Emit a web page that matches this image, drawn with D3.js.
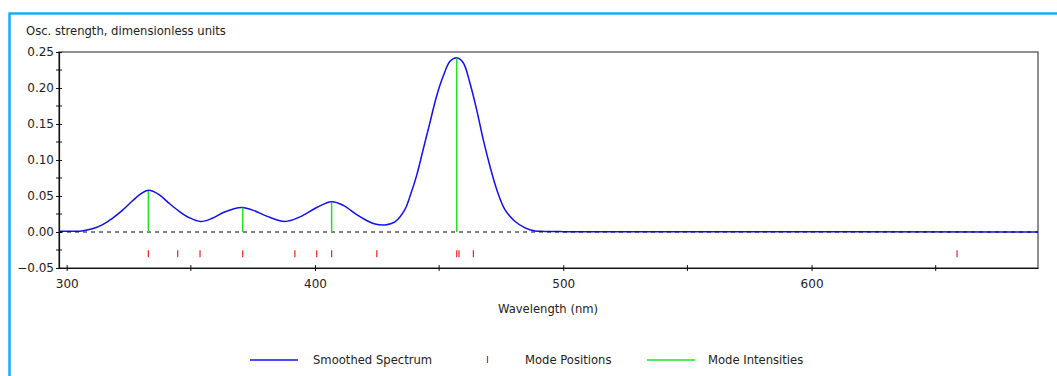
<!DOCTYPE html>
<html><head><meta charset="utf-8">
<script src="https://cdn.jsdelivr.net/npm/d3@7"></script>
<style>
body{margin:0;background:#fff;}
text{font-family:Tahoma,"DejaVu Sans",sans-serif;fill:#222;}
</style></head>
<body>
<svg id="c" width="1057" height="376"></svg>
<script>
// Smoothed spectrum points (wavelength nm, oscillator strength)
const spectrumWl = [296.9,300,306,310.3,314.3,318.4,322.4,326.4,329.8,332.9,337.2,341.2,345.2,349.3,353.9,358.6,363.1,367.1,370.7,375.2,380.5,387.9,394,400.7,406.7,411.4,416.8,420.8,424.2,428.2,432.2,436.2,438.2,440.9,443.6,446.3,449,451.7,454.4,457.1,459.7,462.4,465.1,467.8,470.5,473.2,476.5,480.5,484.6,488.6,492.6,500,543,691.2];
const spectrumVal = [0.001,0.001,0.0015,0.0044,0.010,0.019,0.030,0.043,0.053,0.058,0.052,0.040,0.029,0.020,0.0146,0.019,0.027,0.032,0.034,0.030,0.022,0.0146,0.021,0.034,0.042,0.037,0.024,0.016,0.011,0.0098,0.014,0.031,0.049,0.078,0.115,0.152,0.189,0.217,0.237,0.242,0.235,0.207,0.170,0.128,0.091,0.059,0.031,0.015,0.0058,0.0015,0.0008,0.0005,0.0005,0.0];
// Mode positions (nm)
const modePositions = [332.9,344.7,353.7,370.9,391.9,400.7,406.7,424.9,457.1,458.0,463.8,658.6];
// Mode intensities (nm, value)
const intensityWl = [332.9,370.9,406.7,457.1];
const intensityVal = [0.057,0.034,0.041,0.242];
const yTicks = [-0.05,0.00,0.05,0.10,0.15,0.20,0.25];
const xTicks = [300,400,500,600];
const legendLabels = ["Smoothed Spectrum","Mode Positions","Mode Intensities"];

const svg = d3.select("#c");
const L=59,R=1038,T=52,B=268;
const FS="11.6px";
const x = d3.scaleLinear().domain([296.9,691.2]).range([L,R]);
const y = d3.scaleLinear().domain([-0.05,0.25]).range([B,T]);

// outer blue frame
svg.append("line").attr("x1",9.5).attr("x2",1057).attr("y1",13.5).attr("y2",13.5).attr("stroke","#16aef0").attr("stroke-width",2.5);
svg.append("line").attr("x1",9.5).attr("x2",9.5).attr("y1",12.5).attr("y2",376).attr("stroke","#16aef0").attr("stroke-width",2.5);

// plot frame
svg.append("rect").attr("x",L).attr("y",T).attr("width",R-L).attr("height",B-T).attr("fill","none").attr("stroke","#444").attr("stroke-width",1.2);

// y axis
const yAxis = d3.axisLeft(y).tickValues(yTicks).tickFormat(d3.format(".2f")).tickSize(3).tickSizeOuter(0);
const gy = svg.append("g").attr("transform",`translate(${L},0)`).call(yAxis);
gy.select(".domain").attr("stroke","#111").attr("stroke-width",1.2);
gy.selectAll(".tick line").attr("x2",-3).attr("x1",3).attr("stroke","#111");
gy.selectAll(".tick text").attr("x",-5).style("font-size","12px").style("font-family","Tahoma,'DejaVu Sans',sans-serif").attr("fill","#222");
const yMinor = d3.range(-0.025,0.25,0.05);
svg.append("g").selectAll("line").data(yMinor).join("line")
  .attr("x1",L-3).attr("x2",L+3).attr("y1",d=>y(d)).attr("y2",d=>y(d)).attr("stroke","#111");

// x axis
const xAxis = d3.axisBottom(x).tickValues(xTicks).tickFormat(d3.format("d")).tickSize(3).tickSizeOuter(0);
const gx = svg.append("g").attr("transform",`translate(0,${B})`).call(xAxis);
gx.select(".domain").attr("stroke","#111").attr("stroke-width",1.2);
gx.selectAll(".tick line").attr("y1",-3).attr("y2",3).attr("stroke","#111");
gx.selectAll(".tick text").attr("y",11).style("font-size","12px").style("font-family","Tahoma,'DejaVu Sans',sans-serif").attr("fill","#222");
const xMinor = [350,450,550,650];
svg.append("g").selectAll("line").data(xMinor).join("line")
  .attr("x1",d=>x(d)).attr("x2",d=>x(d)).attr("y1",B-3).attr("y2",B+3).attr("stroke","#111");

// titles
svg.append("text").attr("x",26).attr("y",35).style("font-size",FS).text("Osc. strength, dimensionless units");
svg.append("text").attr("x",548).attr("y",313).attr("text-anchor","middle").style("font-size",FS).text("Wavelength (nm)");

// spectrum
const pts = spectrumWl.map((w,i)=>[w,spectrumVal[i]]);
svg.append("path").datum(pts)
  .attr("d",d3.line().x(d=>x(d[0])).y(d=>y(d[1])).curve(d3.curveCatmullRom.alpha(0.5)))
  .attr("fill","none").attr("stroke","#1010f0").attr("stroke-width",1.5);

// zero line dashed
svg.append("line").attr("x1",L).attr("x2",R).attr("y1",y(0)).attr("y2",y(0))
  .attr("stroke","#111").attr("stroke-dasharray","4,4").attr("stroke-width",1.2);

// mode intensities
svg.append("g").selectAll("line").data(intensityWl).join("line")
  .attr("x1",d=>x(d)).attr("x2",d=>x(d)).attr("y1",y(0)).attr("y2",(d,i)=>y(intensityVal[i]))
  .attr("stroke","#22e022").attr("stroke-width",1.5);

// mode positions
svg.append("g").selectAll("line").data(modePositions).join("line")
  .attr("x1",d=>x(d)).attr("x2",d=>x(d)).attr("y1",y(-0.0255)).attr("y2",y(-0.035))
  .attr("stroke","#f02020").attr("stroke-width",1.2);

// legend
const ly=360;
svg.append("line").attr("x1",250).attr("x2",298).attr("y1",ly).attr("y2",ly).attr("stroke","#1010f0").attr("stroke-width",1.5);
svg.append("text").attr("x",313).attr("y",ly+4).style("font-size",FS).text(legendLabels[0]);
svg.append("line").attr("x1",487.5).attr("x2",487.5).attr("y1",ly-4).attr("y2",ly+3).attr("stroke","#f02020").attr("stroke-width",1.2);
svg.append("text").attr("x",525).attr("y",ly+4).style("font-size",FS).text(legendLabels[1]);
svg.append("line").attr("x1",647).attr("x2",695).attr("y1",ly).attr("y2",ly).attr("stroke","#22e022").attr("stroke-width",1.5);
svg.append("text").attr("x",708).attr("y",ly+4).style("font-size",FS).text(legendLabels[2]);
</script>
</body></html>
